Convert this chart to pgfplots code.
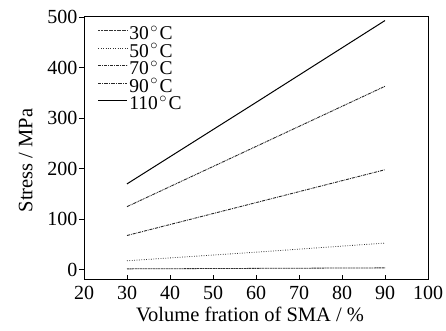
\documentclass[border=0pt]{standalone}
\usepackage{fontspec}
\setmainfont{Liberation Serif}
\usepackage{pgfplots}
\pgfplotsset{compat=1.18}
\begin{document}
\begin{tikzpicture}
\begin{axis}[
  scale only axis, width=344pt, height=263pt,
  xmin=20, xmax=100, ymin=-20, ymax=500,
  xtick={20,30,...,100}, ytick={0,100,...,500},
  /pgf/number format/assume math mode=true,
  tick label style={font=\fontsize{20}{20}\selectfont},
  xticklabel style={yshift=-3pt},
  yticklabel style={xshift=2pt},
  label style={font=\fontsize{20.5}{22}\selectfont},
  xlabel={Volume fration of SMA / \%},
  ylabel={Stress / MPa},
  ylabel style={yshift=8pt, xshift=-12pt},
  xlabel style={yshift=0pt, xshift=-6pt},
  xtick align=inside, ytick align=outside,
  xtick pos=bottom, ytick pos=left,
  major tick length=5pt,
  axis line style={line width=1pt},
  every tick/.style={line width=0.8pt, black},
  legend style={draw=none, fill=none, at={(0.04,0.965)}, anchor=north west,
    font=\fontsize{19.5}{20}\selectfont, row sep=0pt, inner sep=0pt, column sep=0pt,
    nodes={inner xsep=1.5pt, inner ysep=0pt, text height=13.5pt, text depth=4pt}},
  legend cell align=left,
  legend image code/.code={\draw[#1] (0pt,4.5pt) -- (29pt,4.5pt);},
]
\addplot[black!80, line width=0.8pt, dash pattern=on 2pt off 0.6pt] coordinates {(30,2) (60,3) (90,4)};
\addlegendentry{30\kern1.5pt$^\circ$\kern1.5pt C}
\addplot[black!80, line width=0.8pt, dash pattern=on 0.8pt off 1.6pt] coordinates {(30,18) (60,35) (90,53)};
\addlegendentry{50\kern1.5pt$^\circ$\kern1.5pt C}
\addplot[black!85, line width=0.9pt, dash pattern=on 3pt off 1pt on 0.8pt off 1pt] coordinates {(30,68) (60,133) (90,198)};
\addlegendentry{70\kern1.5pt$^\circ$\kern1.5pt C}
\addplot[black!85, line width=0.9pt, dash pattern=on 3pt off 0.8pt on 0.8pt off 0.8pt on 0.8pt off 0.8pt] coordinates {(30,125) (60,244) (90,363)};
\addlegendentry{90\kern1.5pt$^\circ$\kern1.5pt C}
\addplot[black, line width=1pt] coordinates {(30,170) (60,331) (90,493)};
\addlegendentry{110\kern1.5pt$^\circ$\kern1.5pt C}
\end{axis}
\pgfresetboundingbox
\path ([xshift=-84pt,yshift=-51pt]current axis.south west) rectangle ([xshift=18pt,yshift=17pt]current axis.north east);
\end{tikzpicture}
\end{document}
